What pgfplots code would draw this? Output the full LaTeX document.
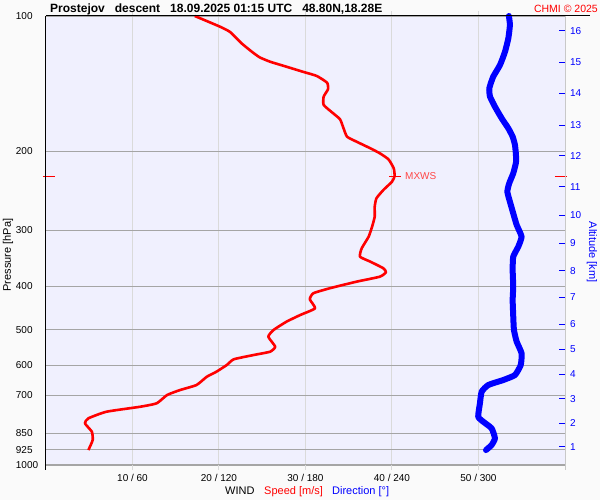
\documentclass[border=0pt]{standalone}
\usepackage{fontspec}
\setmainfont{Liberation Sans}
\usepackage{pgfplots}
\usepackage{pgfplotstable}
\pgfplotsset{compat=1.18}
\definecolor{plotbg}{RGB}{240,240,254}
\definecolor{pagebg}{RGB}{250,250,250}
\definecolor{hgrid}{RGB}{165,165,165}
\definecolor{vgrid}{RGB}{218,218,218}
\definecolor{myred}{RGB}{255,0,0}
\definecolor{myblue}{RGB}{0,0,255}
\definecolor{mxws}{RGB}{255,70,70}

\pgfplotstableread{
speed p
17.2 100
20.1 105.6
21.3 108.6
22.6 115.0
23.8 120.1
24.7 123.6
25.9 126.4
27.8 129.7
29.7 133.1
31.3 136.0
32.5 140.8
32.6 145.6
32.1 151.2
32.1 157.8
33.2 164.7
34.0 169.9
34.4 177.9
34.8 185.7
35.9 190.5
37.5 197.1
38.6 202.2
39.6 208.6
40.2 218.4
40.3 227.2
40.0 233.9
39.0 244.1
38.2 254.7
38.0 265.9
38.0 279.9
37.7 294.6
37.3 310.1
36.5 329.1
36.3 343.6
37.5 352.5
39.0 364.6
39.3 372.2
38.6 380.7
35.9 390.6
32.8 404.0
30.9 414.5
30.5 427.6
31.1 447.7
29.4 463.3
27.8 479.5
26.3 500.4
25.7 517.9
26.5 545.1
25.9 559.4
24.0 568.9
21.7 581.6
20.9 598.8
19.7 619.8
18.6 635.8
17.4 663.5
15.5 680.8
14.0 698.4
12.8 728.8
10.9 741.7
7.0 760.9
4.9 787.1
4.5 807.4
5.3 843.0
5.4 879.7
4.9 926.1
}\speedtab

\pgfplotstableread{
dir p
321.1 100
321.8 104.7
320.7 112.1
318.4 120.1
314.9 128.6
310.2 136.5
307.5 144.9
308.0 151.2
311.4 159.2
316.1 169.0
320.7 177.9
323.7 185.7
325.3 193.8
326.0 204.0
326.0 212.0
324.1 224.1
321.3 235.9
320.0 246.2
321.8 259.2
324.1 275.1
326.5 292.1
329.9 310.1
327.6 326.4
324.1 343.6
323.7 367.8
324.1 400.7
323.7 429.1
324.1 465.8
324.6 500.4
326.5 531.3
329.9 563.9
329.3 598.8
325.3 630.4
317.2 646.7
306.8 663.5
302.2 686.6
301.0 728.8
299.8 780.6
303.3 800.9
309.1 828.5
311.4 872.0
309.1 902.7
305.2 926.1
}\dirtab

\begin{document}
\begin{tikzpicture}[x=1pt,y=1pt]
\useasboundingbox[fill=pagebg] (-46,-35) rectangle (554,465);
\begin{axis}[
  at={(0,0)}, anchor=south west,
  scale only axis, width=519pt, height=449pt,
  xmin=0, xmax=60, ymode=log, ymin=100, ymax=1000, y dir=reverse,
  axis background/.style={fill=plotbg},
  axis line style={draw=none},
  tick align=outside, major tick length=5pt,
  xtick style={vgrid, line width=1pt},
  ytick style={draw=none},
  xtick={10,20,30,40,50},
  xticklabels={10 / 60, 20 / 120, 30 / 180, 40 / 240, 50 / 300},
  ytick={100,200,300,400,500,600,700,850,925,1000},
  yticklabels={100,200,300,400,500,600,700,850,925,1000},
  minor ytick={},
  xmajorgrids, ymajorgrids,
  x grid style={vgrid, line width=1pt},
  y grid style={hgrid, line width=1.3pt},
  ticklabel style={font=\fontsize{10}{12}\selectfont},
  xticklabel style={anchor=base, yshift=-11pt},
  yticklabel style={anchor=west, xshift=-28.6pt},
  /pgf/number format/assume math mode=true,
  clip=false,
]
\addplot[myblue, line width=6pt, line join=round, line cap=round, smooth, tension=0.3] table[x expr=\thisrow{dir}/6, y=p] {\dirtab};
\addplot[myred, line width=2.6pt, line join=round, smooth, tension=0.3] table[x=speed, y=p] {\speedtab};
\addplot[myred, line width=1pt, only marks, mark=-, mark size=6pt, mark options={line width=1pt}] coordinates {(40.3,227.5)};
\addplot[myred, line width=1pt, forget plot] coordinates {(-0.35,227.5) (1.04,227.5)};
\addplot[myred, line width=1pt, forget plot] coordinates {(58.84,227.5) (60.23,227.5)};
\node[anchor=west, text=mxws, font=\fontsize{10}{12}\selectfont, inner sep=0pt] at (axis cs:41.5,227.5) {MXWS};
\end{axis}
\begin{axis}[
  at={(0,0)}, anchor=south west,
  scale only axis, width=519pt, height=449pt,
  xmin=0, xmax=60, ymode=log, ymin=100, ymax=1000, y dir=reverse,
  axis x line=none, axis y line*=right, axis line style={draw=none},
  ytick={107.8,126.6,148.7,175.2,205.0,240.0,277.5,320.8,369.2,423.2,485.3,552.6,628.1,711.7,807.5,910.4},
  yticklabels={16,15,14,13,12,11,10,9,8,7,6,5,4,3,2,1},
  minor ytick={},
  ytick style={myblue, line width=1pt},
  major tick length=6pt, tick align=inside,
  yticklabel style={text=myblue, font=\fontsize{10}{12}\selectfont, anchor=west, xshift=1.5pt},
  /pgf/number format/assume math mode=true,
]
\end{axis}
% frame lines
\draw[black, line width=1pt] (0,449) -- (544,449);
\draw[black, line width=1pt] (0,-5) -- (0,449);
\draw[vgrid!80!gray, line width=1pt] (519,-5) -- (519,449);
% texts
\node[anchor=base west, inner sep=0pt, font=\bfseries\fontsize{12}{14}\selectfont] at (4,452.5) {Prostejov\ \ \ descent\ \ \ 18.09.2025 01:15 UTC\ \ \ 48.80N,18.28E};
\node[anchor=base east, inner sep=0pt, text=myred, font=\fontsize{10.5}{12}\selectfont] at (552,452.5) {CHMI © 2025};
\node[rotate=90, inner sep=0pt, font=\fontsize{11}{13}\selectfont] at (-38,210) {Pressure [hPa]};
\node[rotate=-90, inner sep=0pt, text=myblue, font=\fontsize{11}{13}\selectfont] at (546,213) {Altitude [km]};
\node[anchor=base west, inner sep=0pt, font=\fontsize{11}{13}\selectfont] at (179,-30) {WIND};
\node[anchor=base west, inner sep=0pt, text=myred, font=\fontsize{11}{13}\selectfont] at (218,-30) {Speed [m/s]};
\node[anchor=base west, inner sep=0pt, text=myblue, font=\fontsize{11}{13}\selectfont] at (286,-30) {Direction [°]};
\end{tikzpicture}
\end{document}
